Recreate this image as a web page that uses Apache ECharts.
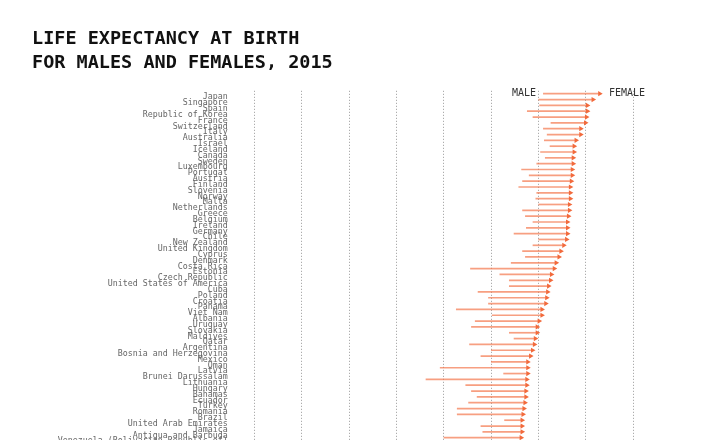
<!DOCTYPE html>
<html>
<head>
<meta charset="utf-8">
<script src="https://cdn.jsdelivr.net/npm/echarts@6/dist/echarts.min.js"></script>
<style>
html,body{margin:0;padding:0;background:#fff;overflow:hidden;}
#chart{width:719px;height:440px;}
</style>
</head>
<body>
<div id="chart"></div>
<script>
const countries = ["Japan","Singapore","Spain","Republic of Korea","France","Switzerland","Italy","Australia","Israel","Iceland","Canada","Sweden","Luxembourg","Portugal","Austria","Finland","Slovenia","Norway","Malta","Netherlands","Greece","Belgium","Ireland","Germany","Chile","New Zealand","United Kingdom","Cyprus","Denmark","Costa Rica","Estonia","Czech Republic","United States of America","Cuba","Poland","Croatia","Panama","Viet Nam","Albania","Uruguay","Slovakia","Maldives","Qatar","Argentina","Bosnia and Herzegovina","Mexico","Oman","Latvia","Brunei Darussalam","Lithuania","Hungary","Bahamas","Ecuador","Turkey","Romania","Brazil","United Arab Emirates","Jamaica","Antigua and Barbuda","Venezuela (Bolivarian Republic of)"];
const male = [80.5,80.0,80.1,78.8,79.4,81.3,80.5,80.9,80.6,81.2,80.2,80.7,79.8,78.2,79.0,78.3,77.9,79.8,79.7,80.0,78.3,78.6,79.4,78.7,77.4,80.0,79.4,78.3,78.6,77.1,72.8,75.9,76.9,76.9,73.6,74.7,74.7,71.3,75.1,73.3,72.9,76.9,77.4,72.7,75.0,73.9,75.0,69.6,76.3,68.1,72.3,72.9,73.5,72.6,71.4,71.4,76.4,73.9,74.1,70.0];
const female = [86.8,86.1,85.5,85.5,85.4,85.3,84.8,84.8,84.3,84.1,84.1,84.0,84.0,83.9,83.9,83.8,83.7,83.7,83.7,83.6,83.6,83.5,83.4,83.4,83.4,83.3,83.0,82.7,82.5,82.2,82.0,81.7,81.6,81.4,81.3,81.2,81.1,80.7,80.7,80.4,80.2,80.2,80.0,79.9,79.7,79.5,79.2,79.2,79.2,79.1,79.1,79.0,79.0,78.9,78.8,78.7,78.6,78.6,78.6,78.5];
const xTicks = {min: 50, max: 90, step: 5};

const data = countries.map((c, i) => [male[i], female[i], i]);

const chart = echarts.init(document.getElementById('chart'), null, {renderer: 'canvas'});
const mono = '"DejaVu Sans Mono", "Liberation Mono", monospace';

chart.setOption({
  animation: false,
  backgroundColor: '#fff',
  title: {
    text: 'LIFE EXPECTANCY AT BIRTH\nFOR MALES AND FEMALES, 2015',
    left: 32,
    top: 27,
    padding: 0,
    textStyle: {fontFamily: mono, fontWeight: 'bold', fontSize: 18.5, lineHeight: 24.3, color: '#111'}
  },
  grid: {left: 254.3, right: 86, top: 90.8, height: 349.8, containLabel: false, outerBoundsMode: 'none'},
  xAxis: {
    type: 'value', min: xTicks.min, max: xTicks.max, interval: xTicks.step,
    axisLine: {show: false}, axisTick: {show: false}, axisLabel: {show: false},
    splitLine: {show: true, lineStyle: {color: '#999', width: 1, type: [1, 2]}}
  },
  yAxis: {
    type: 'category', data: countries, inverse: true,
    axisLine: {show: false}, axisTick: {show: false},
    splitLine: {show: false},
    axisLabel: {interval: 0, margin: 26.6, fontFamily: mono, fontSize: 8.3, color: '#666',
      verticalAlign: 'top', lineHeight: 7.2}
  },
  series: [{
    type: 'custom',
    data: data,
    encode: {x: [0, 1], y: 2},
    clip: false,
    renderItem: function (params, api) {
      const idx = api.value(2);
      const p1 = api.coord([api.value(0), idx]);
      const p2 = api.coord([api.value(1), idx]);
      const headLen = 4.5, headW = 2.6;
      const children = [
        {type: 'line', shape: {x1: p1[0], y1: p1[1], x2: p2[0] - headLen + 0.5, y2: p2[1]},
          style: {stroke: '#f47a50', lineWidth: 1.7, opacity: 0.72}},
        {type: 'polygon', shape: {points: [[p2[0], p2[1]], [p2[0] - headLen, p2[1] - headW], [p2[0] - headLen, p2[1] + headW]]},
          style: {fill: '#f26a3c'}}
      ];
      if (idx === 0) {
        children.push({type: 'text', style: {text: 'MALE', x: p1[0] - 7, y: p1[1], align: 'right', verticalAlign: 'middle',
          font: '10px ' + mono, fill: '#333'}});
        children.push({type: 'text', style: {text: 'FEMALE', x: p2[0] + 6.3, y: p2[1], align: 'left', verticalAlign: 'middle',
          font: '10px ' + mono, fill: '#333'}});
      }
      return {type: 'group', children: children};
    }
  }]
});
</script>
</body>
</html>
